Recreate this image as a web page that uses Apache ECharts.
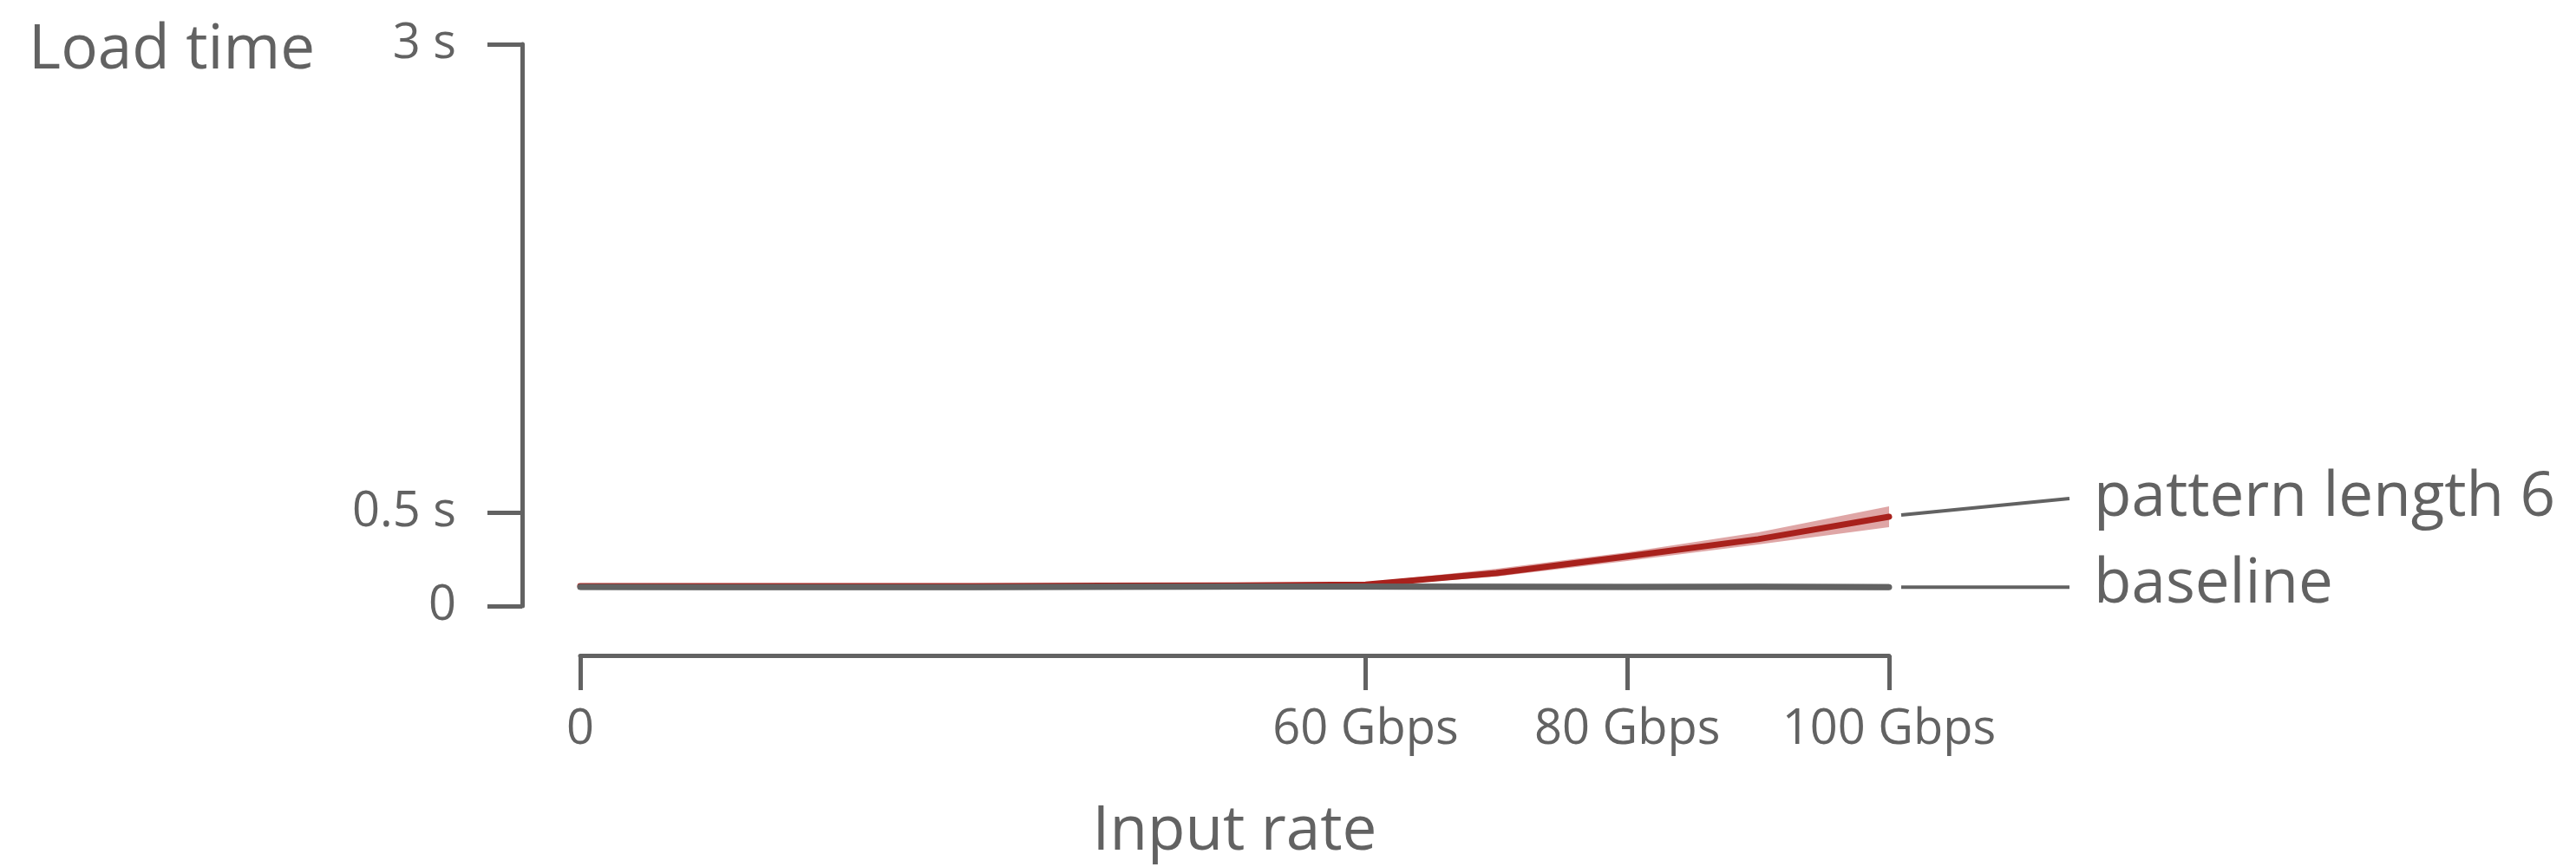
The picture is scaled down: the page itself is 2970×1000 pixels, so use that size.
<!DOCTYPE html>
<html>
<head>
<meta charset="utf-8">
<title>Load time vs input rate</title>
<script src="https://cdn.jsdelivr.net/npm/echarts@6/dist/echarts.min.js"></script>
<style>
  html, body { margin: 0; padding: 0; background: #ffffff; }
  #chart { width: 2970px; height: 1000px; }
</style>
</head>
<body>
<div id="chart"></div>
<script>
// Input rate samples (Gbps)
const xValues = [0, 10, 20, 30, 40, 50, 60, 70, 80, 90, 100];

// Baseline load time (s) with its spread
const baselineMean = [0.102, 0.101, 0.101, 0.101, 0.103, 0.104, 0.104, 0.103, 0.102, 0.103, 0.101];
const baselineLow  = [0.084, 0.083, 0.083, 0.083, 0.085, 0.086, 0.086, 0.085, 0.084, 0.085, 0.083];
const baselineHigh = [0.120, 0.119, 0.119, 0.119, 0.121, 0.122, 0.122, 0.121, 0.120, 0.121, 0.119];

// Pattern length 6 load time (s) with its spread
const pattern6Mean = [0.107, 0.106, 0.106, 0.107, 0.109, 0.110, 0.115, 0.176, 0.265, 0.357, 0.477];
const pattern6Low  = [0.100, 0.100, 0.100, 0.100, 0.103, 0.104, 0.105, 0.157, 0.241, 0.329, 0.421];
const pattern6High = [0.113, 0.112, 0.112, 0.113, 0.115, 0.116, 0.125, 0.199, 0.287, 0.394, 0.532];

// Axis ticks
const xTickValues = [0, 60, 80, 100];
const yTickValues = [0, 0.5, 3];

const seriesNames = ['pattern length 6', 'baseline'];
const axisNames = { x: 'Input rate', y: 'Load time' };

const INK = '#626262';
const FONT = '"Open Sans", "Noto Sans", sans-serif';
const RED = '#a8211c';
const RED_BAND = 'rgba(175, 32, 32, 0.40)';
const GRAY_BAND = 'rgba(120, 120, 120, 0.35)';

const pairs = (ys) => xValues.map((x, i) => [x, ys[i]]);

// Shaded spread between a low and a high curve, projected through the grid's scales
const band = (name, low, high, color) => ({
  name, type: 'custom', silent: true, z: 1,
  data: [[xValues[0], low[0]]],
  renderItem: (params, api) => {
    const upper = xValues.map((x, i) => api.coord([x, high[i]]));
    const lower = xValues.map((x, i) => api.coord([x, low[i]])).reverse();
    return {
      type: 'polygon',
      shape: { points: upper.concat(lower) },
      style: { fill: color }
    };
  }
});

const chart = echarts.init(document.getElementById('chart'), null, { renderer: 'canvas' });

chart.setOption({
  animation: false,
  backgroundColor: '#ffffff',
  textStyle: { fontFamily: FONT, color: INK },
  grid: { left: 669, right: 792, top: 51, bottom: 301 },
  xAxis: {
    type: 'value', min: 0, max: 100,
    offset: 57,
    name: axisNames.x,
    nameLocation: 'middle',
    nameGap: 168,
    nameTextStyle: { fontFamily: FONT, fontSize: 71, color: INK },
    axisLine: { show: true, onZero: false, lineStyle: { color: INK, width: 5 } },
    axisTick: { show: true, length: 40, customValues: xTickValues, lineStyle: { color: INK, width: 5 } },
    axisLabel: {
      customValues: xTickValues,
      margin: 58,
      fontFamily: FONT, fontSize: 56, color: INK,
      formatter: (v) => (v === 0 ? '0' : v + ' Gbps')
    },
    splitLine: { show: false }
  },
  yAxis: {
    type: 'value', min: 0, max: 3,
    offset: 67,
    name: axisNames.y,
    nameLocation: 'end',
    nameGap: -8,
    nameTextStyle: {
      fontFamily: FONT, fontSize: 71, color: INK,
      align: 'right', verticalAlign: 'middle',
      padding: [0, 239, 0, 0]
    },
    axisLine: { show: true, onZero: false, lineStyle: { color: INK, width: 5 } },
    axisTick: { show: true, length: 40, customValues: yTickValues, lineStyle: { color: INK, width: 5 } },
    axisLabel: {
      customValues: yTickValues,
      margin: 76,
      fontFamily: FONT, fontSize: 56, color: INK,
      formatter: (v) => (v === 0 ? '0' : v + ' s')
    },
    splitLine: { show: false }
  },
  series: [
    band('p6-spread', pattern6Low, pattern6High, RED_BAND),
    band('base-spread', baselineLow, baselineHigh, GRAY_BAND),
    {
      name: seriesNames[0], type: 'line', data: pairs(pattern6Mean),
      symbol: 'none', z: 3,
      lineStyle: { color: RED, width: 7, cap: 'round', join: 'round' },
      endLabel: {
        show: true, formatter: seriesNames[0],
        distance: 236, offset: [0, -21],
        fontFamily: FONT, fontSize: 71, color: INK
      }
    },
    {
      name: seriesNames[1], type: 'line', data: pairs(baselineMean),
      symbol: 'none', z: 4,
      lineStyle: { color: INK, width: 7, cap: 'round', join: 'round' },
      endLabel: {
        show: true, formatter: seriesNames[1],
        distance: 236, offset: [0, -2],
        fontFamily: FONT, fontSize: 71, color: INK
      }
    }
  ]
});

// Leader lines from the line ends to their labels
const last = xValues.length - 1;
const pEnd = chart.convertToPixel({ gridIndex: 0 }, [xValues[last], pattern6Mean[last]]);
const bEnd = chart.convertToPixel({ gridIndex: 0 }, [xValues[last], baselineMean[last]]);
chart.setOption({
  graphic: [
    {
      type: 'line', silent: true,
      shape: { x1: pEnd[0] + 14, y1: pEnd[1] - 2, x2: pEnd[0] + 208, y2: pEnd[1] - 21 },
      style: { stroke: INK, lineWidth: 4 }
    },
    {
      type: 'line', silent: true,
      shape: { x1: bEnd[0] + 14, y1: bEnd[1], x2: bEnd[0] + 208, y2: bEnd[1] },
      style: { stroke: INK, lineWidth: 4 }
    }
  ]
});
</script>
</body>
</html>
